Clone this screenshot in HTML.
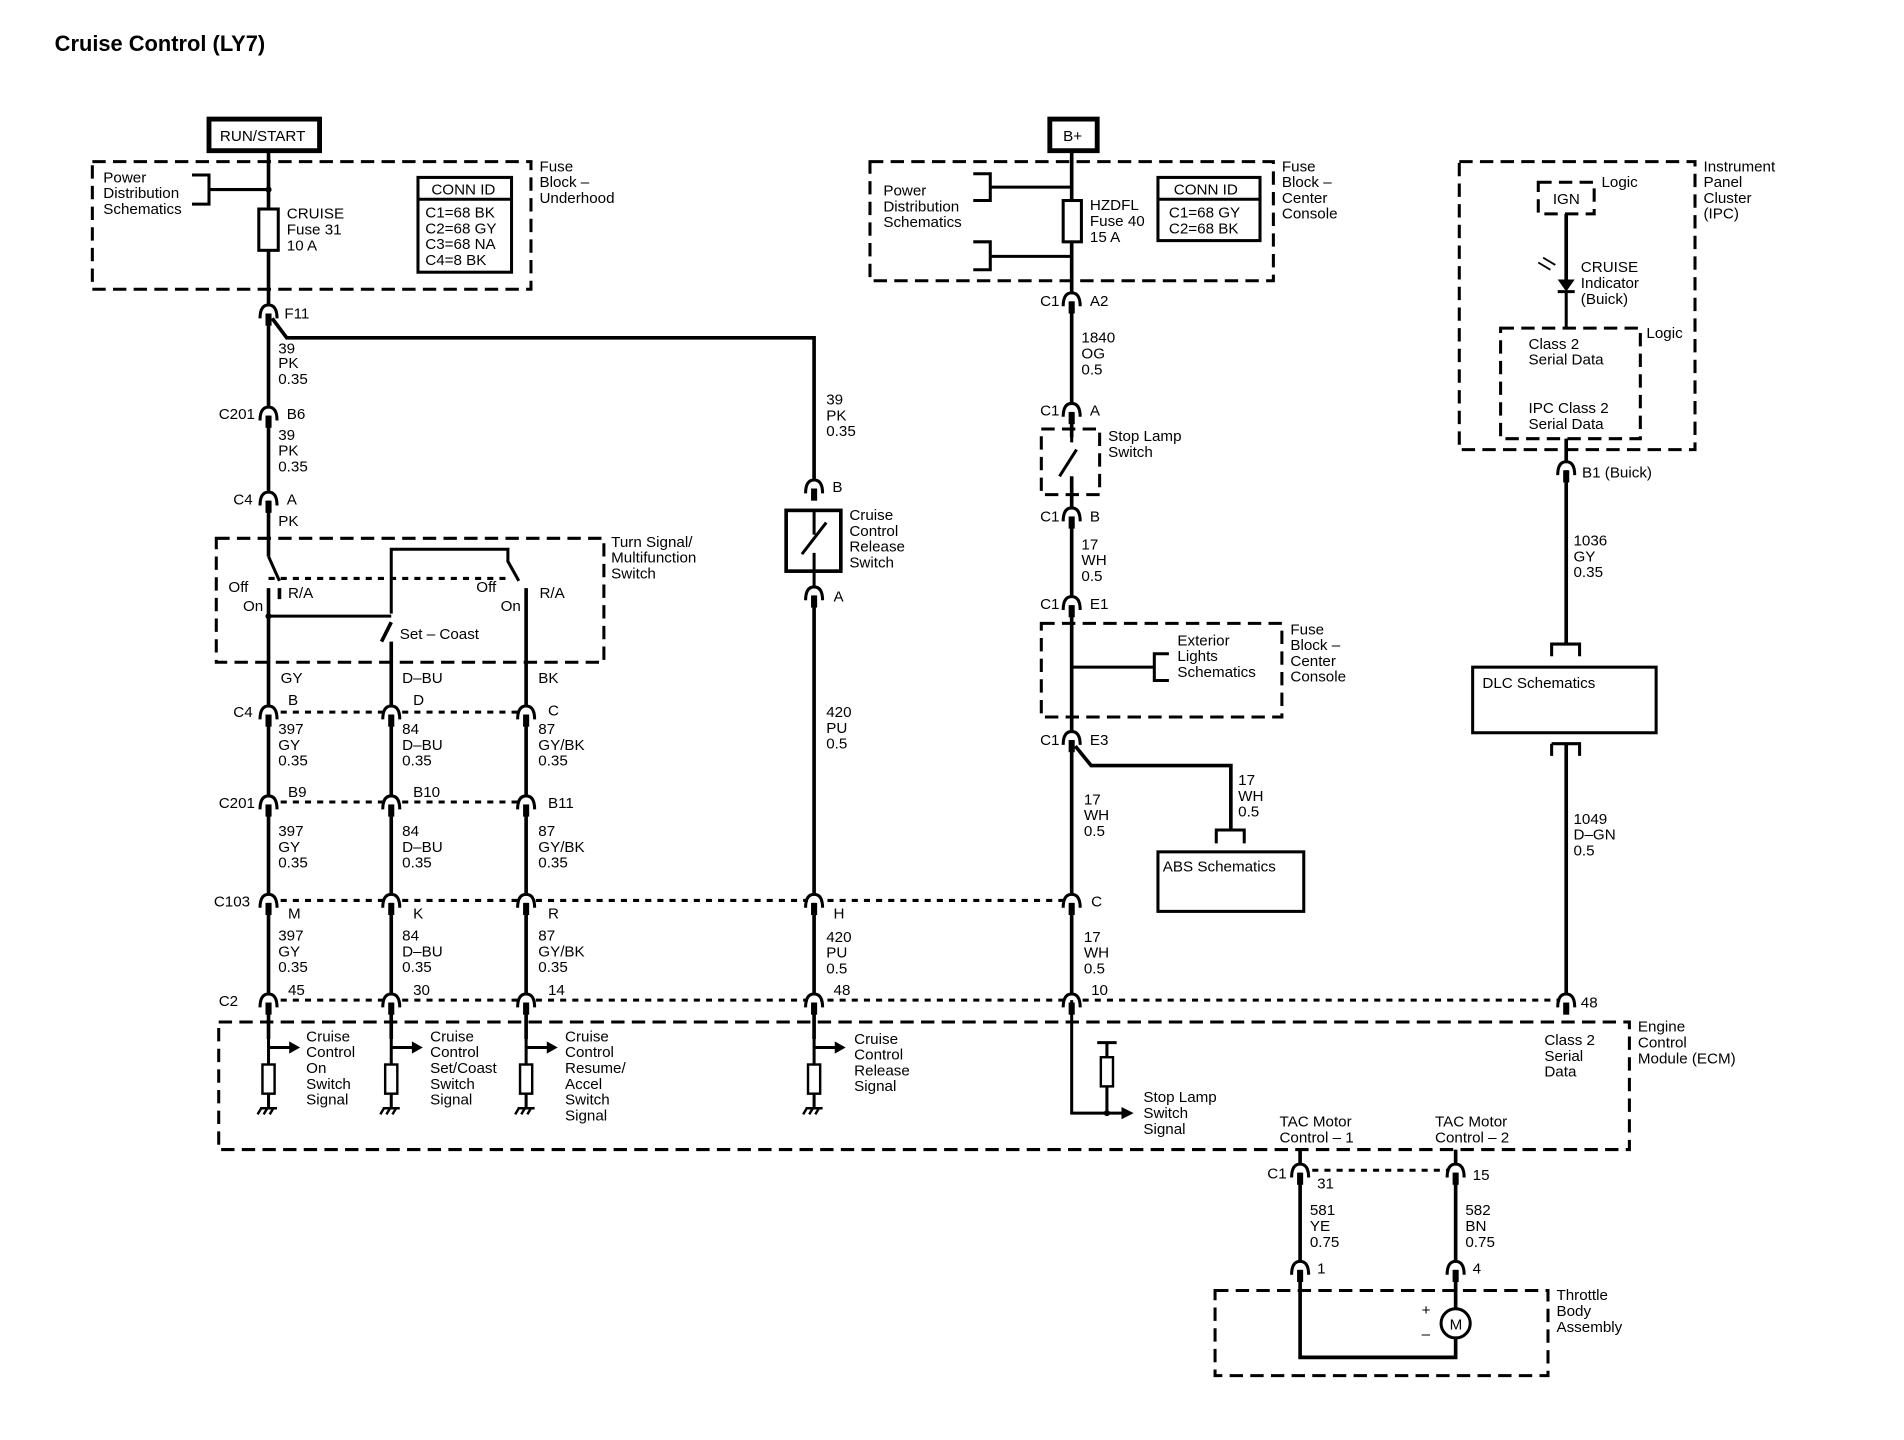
<!DOCTYPE html>
<html><head><meta charset="utf-8"><style>
html,body{margin:0;padding:0;background:#fff;}
svg{display:block}
text{font-family:"Liberation Sans",Arial,sans-serif;font-size:12.5px;fill:#000;}
.t{font-size:18px;font-weight:bold}
.w{stroke:#000;stroke-width:3;fill:none}
.d{stroke:#000;stroke-width:2.5;fill:none;stroke-dasharray:11 6}
.dl{stroke:#000;stroke-width:2.5;fill:none;stroke-dasharray:5 5}
.b{stroke:#000;stroke-width:2.5;fill:none}
</style></head><body>
<svg width="1904" height="1440" viewBox="0 0 1567 1185" preserveAspectRatio="none" xmlns="http://www.w3.org/2000/svg">
<defs>
<g id="c"><rect x="-5" y="-4" width="10" height="6" fill="#fff"/><path d="M-7,6 Q-7,-5 0,-5 Q7,-5 7,6" stroke="#000" stroke-width="2.5" fill="none"/><rect x="-2.5" y="2" width="5" height="10" fill="#000"/></g>
<g id="r"><rect x="-5" y="0" width="10" height="24" stroke="#000" stroke-width="2" fill="#fff"/></g>
<g id="g"><path d="M-7,0 H7 M-6,0 l-3,5 M-1,0 l-3,5 M4,0 l-3,5" stroke="#000" stroke-width="2" fill="none"/></g>
</defs>
<text x="45" y="42" class="t">Cruise Control (LY7)</text>

<!-- RUN/START -->
<rect x="172" y="98" width="91" height="26" fill="#fff" stroke="#000" stroke-width="4"/>
<text x="181" y="116">RUN/START</text>
<rect x="76" y="133" width="361" height="105" class="d"/>
<text x="444" y="141">Fuse</text><text x="444" y="154">Block –</text><text x="444" y="167">Underhood</text>
<text x="85" y="150">Power</text><text x="85" y="163">Distribution</text><text x="85" y="176">Schematics</text>
<path d="M158,144 H172 V168 H158 M172,156 H221" class="b"/>
<circle cx="221" cy="156" r="2.5"/>
<path d="M221,124 V404" class="w"/>
<rect x="213" y="172" width="16" height="34" fill="#fff" stroke="#000" stroke-width="2.5"/>
<text x="236" y="180">CRUISE</text><text x="236" y="193">Fuse 31</text><text x="236" y="206">10 A</text>
<rect x="344" y="146" width="77" height="78" class="b"/><path d="M344,164 H421" class="b"/>
<text x="355" y="160">CONN ID</text>
<text x="350" y="179">C1=68 BK</text><text x="350" y="192">C2=68 GY</text><text x="350" y="205">C3=68 NA</text><text x="350" y="218">C4=8 BK</text>
<path d="M224,262 L236,278 H670 V396" class="w"/>
<use href="#c" x="221" y="256"/><text x="234" y="262">F11</text>
<text x="229" y="291">39</text><text x="229" y="303">PK</text><text x="229" y="316">0.35</text>
<use href="#c" x="221" y="340"/><text x="180" y="345">C201</text><text x="236" y="345">B6</text>
<text x="229" y="362">39</text><text x="229" y="375">PK</text><text x="229" y="388">0.35</text>
<path d="M221,410 V458" class="w"/>
<use href="#c" x="221" y="410"/><text x="192" y="415">C4</text><text x="236" y="415">A</text>
<text x="229" y="433">PK</text>

<!-- turn signal switch -->
<rect x="178" y="443" width="319" height="102" class="d"/>
<text x="503" y="450">Turn Signal/</text><text x="503" y="463">Multifunction</text><text x="503" y="476">Switch</text>
<path d="M221,458 L230,478" class="b"/>
<path d="M221,476 H420" class="dl"/>
<path d="M221,484 V586 M230,484 V493" class="w"/>
<text x="188" y="487">Off</text><text x="200" y="503">On</text><text x="237" y="492">R/A</text>
<path d="M322,505 V452 H418 V462 L427,478" class="b"/>
<path d="M221,507 H322" class="b"/><circle cx="221" cy="507" r="2.5"/>
<path d="M322,512 L314,528 M322,528 V586 M433,484 V586" class="w"/>
<text x="392" y="487">Off</text><text x="412" y="503">On</text><text x="444" y="492">R/A</text>
<text x="329" y="526">Set – Coast</text>
<text x="231" y="562">GY</text><text x="331" y="562">D–BU</text><text x="443" y="562">BK</text>

<!-- connector rows -->
<path d="M221,586 H433" class="dl"/>
<path d="M221,660 H433" class="dl"/>
<path d="M221,741 H882" class="dl"/>
<path d="M221,823 H1289" class="dl"/>
<path d="M221,586 V855 M322,586 V855 M433,586 V855" class="w"/>
<path d="M670,488 V855" class="w"/>
<path d="M882,124 V823" class="w"/>
<path d="M1289,361 V530 M1289,612 V823" class="w"/>
<use href="#c" x="221" y="586"/><use href="#c" x="322" y="586"/><use href="#c" x="433" y="586"/>
<text x="192" y="590">C4</text><text x="237" y="580">B</text><text x="340" y="580">D</text><text x="451" y="589">C</text>
<text x="229" y="604">397</text><text x="229" y="617">GY</text><text x="229" y="630">0.35</text>
<text x="331" y="604">84</text><text x="331" y="617">D–BU</text><text x="331" y="630">0.35</text>
<text x="443" y="604">87</text><text x="443" y="617">GY/BK</text><text x="443" y="630">0.35</text>
<use href="#c" x="221" y="660"/><use href="#c" x="322" y="660"/><use href="#c" x="433" y="660"/>
<text x="180" y="665">C201</text><text x="237" y="656">B9</text><text x="340" y="656">B10</text><text x="451" y="665">B11</text>
<text x="229" y="688">397</text><text x="229" y="701">GY</text><text x="229" y="714">0.35</text>
<text x="331" y="688">84</text><text x="331" y="701">D–BU</text><text x="331" y="714">0.35</text>
<text x="443" y="688">87</text><text x="443" y="701">GY/BK</text><text x="443" y="714">0.35</text>
<use href="#c" x="221" y="741"/><use href="#c" x="322" y="741"/><use href="#c" x="433" y="741"/><use href="#c" x="670" y="741"/><use href="#c" x="882" y="741"/>
<text x="176" y="746">C103</text><text x="237" y="756">M</text><text x="340" y="756">K</text><text x="451" y="756">R</text><text x="686" y="756">H</text><text x="898" y="746">C</text>
<text x="229" y="774">397</text><text x="229" y="787">GY</text><text x="229" y="800">0.35</text>
<text x="331" y="774">84</text><text x="331" y="787">D–BU</text><text x="331" y="800">0.35</text>
<text x="443" y="774">87</text><text x="443" y="787">GY/BK</text><text x="443" y="800">0.35</text>
<text x="680" y="775">420</text><text x="680" y="788">PU</text><text x="680" y="801">0.5</text>
<text x="892" y="775">17</text><text x="892" y="788">WH</text><text x="892" y="801">0.5</text>
<use href="#c" x="221" y="823"/><use href="#c" x="322" y="823"/><use href="#c" x="433" y="823"/><use href="#c" x="670" y="823"/><use href="#c" x="882" y="823"/><use href="#c" x="1289" y="823"/>
<text x="180" y="828">C2</text><text x="237" y="819">45</text><text x="340" y="819">30</text><text x="451" y="819">14</text><text x="686" y="819">48</text><text x="898" y="819">10</text><text x="1301" y="829">48</text>

<!-- ECM -->
<rect x="180" y="841" width="1161" height="105" class="d"/>
<text x="1348" y="849">Engine</text><text x="1348" y="862">Control</text><text x="1348" y="875">Module (ECM)</text>
<g>
<path d="M221,855 V912 M221,862 H240" class="b"/><path d="M238,857 L247,862 L238,867Z"/><use href="#r" x="221" y="876"/><use href="#g" x="221" y="912"/>
<path d="M322,855 V912 M322,862 H341" class="b"/><path d="M339,857 L348,862 L339,867Z"/><use href="#r" x="322" y="876"/><use href="#g" x="322" y="912"/>
<path d="M433,855 V912 M433,862 H452" class="b"/><path d="M450,857 L459,862 L450,867Z"/><use href="#r" x="433" y="876"/><use href="#g" x="433" y="912"/>
<path d="M670,855 V912 M670,862 H689" class="b"/><path d="M687,857 L696,862 L687,867Z"/><use href="#r" x="670" y="876"/><use href="#g" x="670" y="912"/>
</g>
<text x="252" y="857">Cruise</text><text x="252" y="870">Control</text><text x="252" y="883">On</text><text x="252" y="896">Switch</text><text x="252" y="909">Signal</text>
<text x="354" y="857">Cruise</text><text x="354" y="870">Control</text><text x="354" y="883">Set/Coast</text><text x="354" y="896">Switch</text><text x="354" y="909">Signal</text>
<text x="465" y="857">Cruise</text><text x="465" y="870">Control</text><text x="465" y="883">Resume/</text><text x="465" y="896">Accel</text><text x="465" y="909">Switch</text><text x="465" y="922">Signal</text>
<text x="703" y="859">Cruise</text><text x="703" y="872">Control</text><text x="703" y="885">Release</text><text x="703" y="898">Signal</text>
<path d="M882,823 V916 H925 M911,858 V916 M903,858 H919" class="b"/><path d="M923,911 L933,916 L923,921Z"/>
<circle cx="911" cy="916" r="2.5"/><use href="#r" x="911" y="870"/>
<text x="941" y="907">Stop Lamp</text><text x="941" y="920">Switch</text><text x="941" y="933">Signal</text>
<text x="1271" y="860">Class 2</text><text x="1271" y="873">Serial</text><text x="1271" y="886">Data</text>
<text x="1053" y="927">TAC Motor</text><text x="1053" y="940">Control – 1</text>
<text x="1181" y="927">TAC Motor</text><text x="1181" y="940">Control – 2</text>

<!-- TAC -->
<path d="M1070,963 H1198" class="dl"/>
<path d="M1070,946 V1117 H1198 V1101 M1198,946 V1077" class="w"/>
<use href="#c" x="1070" y="963"/><use href="#c" x="1198" y="963"/>
<text x="1043" y="970">C1</text><text x="1084" y="978">31</text><text x="1212" y="971">15</text>
<text x="1078" y="1000">581</text><text x="1078" y="1013">YE</text><text x="1078" y="1026">0.75</text>
<text x="1206" y="1000">582</text><text x="1206" y="1013">BN</text><text x="1206" y="1026">0.75</text>
<use href="#c" x="1070" y="1043"/><use href="#c" x="1198" y="1043"/>
<text x="1084" y="1048">1</text><text x="1212" y="1048">4</text>
<rect x="1000" y="1062" width="274" height="70" class="d"/>
<circle cx="1198" cy="1089" r="12" class="b" fill="#fff"/><text x="1193" y="1094">M</text>
<text x="1170" y="1082">+</text><text x="1170" y="1102">–</text>
<text x="1281" y="1070">Throttle</text><text x="1281" y="1083">Body</text><text x="1281" y="1096">Assembly</text>

<!-- release switch -->
<text x="680" y="333">39</text><text x="680" y="346">PK</text><text x="680" y="359">0.35</text>
<use href="#c" x="670" y="400"/><text x="685" y="405">B</text>
<rect x="647" y="420" width="45" height="50" fill="#fff" stroke="#000" stroke-width="3"/>
<path d="M670,470 V482 M660,456 L680,430 M670,440 V420 M670,455 V470" class="b"/>
<use href="#c" x="670" y="488"/><text x="686" y="495">A</text>
<text x="699" y="428">Cruise</text><text x="699" y="441">Control</text><text x="699" y="454">Release</text><text x="699" y="467">Switch</text>
<text x="680" y="590">420</text><text x="680" y="603">PU</text><text x="680" y="616">0.5</text>

<!-- B+ column -->
<rect x="864" y="98" width="39" height="26" fill="#fff" stroke="#000" stroke-width="4"/>
<text x="875" y="116">B+</text>
<rect x="716" y="133" width="332" height="98" class="d"/>
<text x="1055" y="141">Fuse</text><text x="1055" y="154">Block –</text><text x="1055" y="167">Center</text><text x="1055" y="180">Console</text>
<text x="727" y="161">Power</text><text x="727" y="174">Distribution</text><text x="727" y="187">Schematics</text>
<path d="M801,143 H815 V165 H801 M815,154 H882 M801,199 H815 V222 H801 M815,211 H882" class="b"/>
<rect x="875" y="165" width="15" height="34" fill="#fff" stroke="#000" stroke-width="2.5"/>
<text x="897" y="173">HZDFL</text><text x="897" y="186">Fuse 40</text><text x="897" y="199">15 A</text>
<rect x="953" y="146" width="84" height="52" class="b"/><path d="M953,164 H1037" class="b"/>
<text x="966" y="160">CONN ID</text><text x="962" y="179">C1=68 GY</text><text x="962" y="192">C2=68 BK</text>
<use href="#c" x="882" y="246"/><text x="856" y="252">C1</text><text x="897" y="252">A2</text>
<text x="890" y="282">1840</text><text x="890" y="295">OG</text><text x="890" y="308">0.5</text>
<use href="#c" x="882" y="337"/><text x="856" y="342">C1</text><text x="897" y="342">A</text>
<rect x="857" y="353" width="48" height="54" class="d"/>
<rect x="876" y="360" width="12" height="32" fill="#fff"/>
<path d="M882,353 V364 M872,392 L886,370 M882,392 V407" class="b"/>
<text x="912" y="363">Stop Lamp</text><text x="912" y="376">Switch</text>
<use href="#c" x="882" y="423"/><text x="856" y="429">C1</text><text x="897" y="429">B</text>
<text x="890" y="452">17</text><text x="890" y="465">WH</text><text x="890" y="478">0.5</text>
<use href="#c" x="882" y="496"/><text x="856" y="501">C1</text><text x="897" y="501">E1</text>
<rect x="857" y="513" width="198" height="77" class="d"/>
<path d="M882,549 H950 M962,538 H950 V560 H962" class="b"/>
<text x="969" y="531">Exterior</text><text x="969" y="544">Lights</text><text x="969" y="557">Schematics</text>
<text x="1062" y="522">Fuse</text><text x="1062" y="535">Block –</text><text x="1062" y="548">Center</text><text x="1062" y="561">Console</text>
<path d="M885,614 L898,630 H1013 V683" class="w"/>
<use href="#c" x="882" y="607"/><text x="856" y="613">C1</text><text x="897" y="613">E3</text>
<path d="M1001,694 V683 H1024 V694" class="b"/>
<text x="1019" y="646">17</text><text x="1019" y="659">WH</text><text x="1019" y="672">0.5</text>
<text x="892" y="662">17</text><text x="892" y="675">WH</text><text x="892" y="688">0.5</text>
<rect x="953" y="701" width="120" height="49" class="b"/>
<text x="957" y="717">ABS Schematics</text>

<!-- IPC -->
<rect x="1201" y="133" width="194" height="237" class="d"/>
<text x="1402" y="141">Instrument</text><text x="1402" y="154">Panel</text><text x="1402" y="167">Cluster</text><text x="1402" y="180">(IPC)</text>
<rect x="1266" y="150" width="46" height="26" class="d" stroke-dasharray="6 5"/>
<text x="1278" y="168">IGN</text><text x="1318" y="154">Logic</text>
<path d="M1289,176 V230" class="w"/>
<path d="M1282,230 H1296 L1289,240 Z"/><path d="M1282,240 H1296" class="b"/>
<path d="M1266,216 L1276,222 M1270,212 L1280,218" stroke="#000" stroke-width="1.5"/>
<text x="1301" y="224">CRUISE</text><text x="1301" y="237">Indicator</text><text x="1301" y="250">(Buick)</text>
<path d="M1289,240 V270" class="b"/>
<rect x="1235" y="270" width="115" height="91" class="d" stroke-dasharray="8 5"/>
<text x="1355" y="278">Logic</text>
<text x="1258" y="287">Class 2</text><text x="1258" y="300">Serial Data</text>
<text x="1258" y="340">IPC Class 2</text><text x="1258" y="353">Serial Data</text>
<use href="#c" x="1289" y="385"/><text x="1302" y="393">B1 (Buick)</text>
<text x="1295" y="449">1036</text><text x="1295" y="462">GY</text><text x="1295" y="475">0.35</text>
<path d="M1277,540 V530 H1300 V540" class="b"/>
<rect x="1212" y="549" width="151" height="54" class="b"/>
<text x="1220" y="566">DLC Schematics</text>
<path d="M1277,612 V622 M1277,612 H1300 V622" class="b"/>
<text x="1295" y="678">1049</text><text x="1295" y="691">D–GN</text><text x="1295" y="704">0.5</text>
</svg>
</body></html>
